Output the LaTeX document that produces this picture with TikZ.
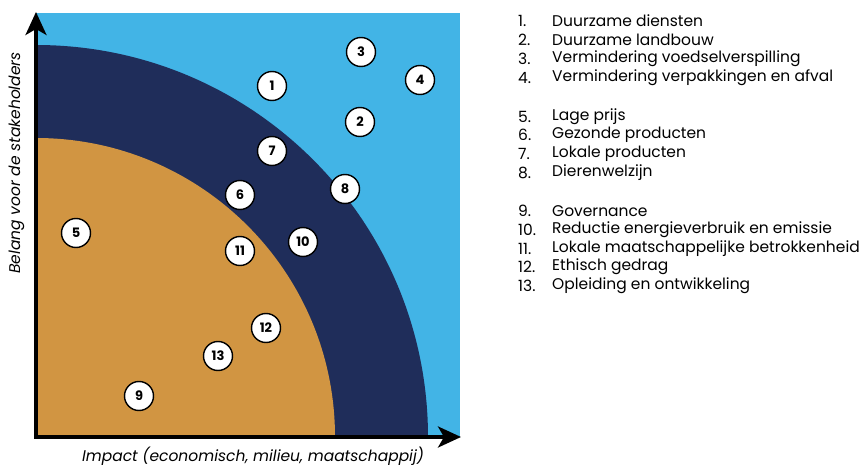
\documentclass[tikz,border=0pt]{standalone}
\usepackage{fontspec}
\setmainfont{Poppins}
\usetikzlibrary{arrows.meta}
\definecolor{lightb}{RGB}{66,180,230}
\definecolor{navy}{RGB}{31,45,90}
\definecolor{ochre}{RGB}{209,149,66}
\begin{document}
\begin{tikzpicture}[x=1pt,y=-1pt,
  badge/.style={circle,draw=black,line width=1.4pt,fill=white,minimum size=29pt,inner sep=0pt,font=\fontsize{13}{13}\selectfont\bfseries},
  num/.style={anchor=west,inner sep=0pt,font=\fontsize{15.5}{15.5}\selectfont},
  item/.style={anchor=west,inner sep=0pt,font=\fontsize{15.5}{15.5}\selectfont},
  axislab/.style={font=\fontsize{15.5}{15.5}\selectfont\itshape},
  axis/.style={line width=3.4pt,-{Stealth[length=23pt,width=21pt,inset=6pt]}}]
\useasboundingbox (0,0) rectangle (868,465);
% background regions
\fill[lightb] (36,13) rectangle (460,437);
\fill[navy] (36,437) -- (36,45) arc[start angle=90,end angle=0,x radius=392,y radius=-392] -- cycle;
\fill[ochre] (36,437) -- (36,138) arc[start angle=90,end angle=0,x radius=299,y radius=-299] -- cycle;
% axes
\coordinate (o) at (36,437);
\coordinate (ytip) at (36,12);
\coordinate (xtip) at (461,437);
\draw[axis] ([yshift=-1.7pt]o) -- (ytip);
\draw[axis] ([xshift=-1.7pt]o) -- (xtip);
\node[rotate=90,axislab] (ylab) at (17,163) {Belang voor de stakeholders};
\node[axislab] (xlab) at (253,456) {Impact (economisch, milieu, maatschappij)};
% badges
\node[badge] (b1) at (272,86) {1};
\node[badge] (b2) at (360,122) {2};
\node[badge] (b3) at (361,52) {3};
\node[badge] (b4) at (420,80) {4};
\node[badge] (b5) at (76,233) {5};
\node[badge] (b6) at (240,195) {6};
\node[badge] (b7) at (272,151) {7};
\node[badge] (b8) at (345,189) {8};
\node[badge] (b9) at (139,396) {9};
\node[badge] (b10) at (303,242) {10};
\node[badge] (b11) at (240,251) {11};
\node[badge] (b12) at (266,328) {12};
\node[badge] (b13) at (218,356) {13};
% legend
\foreach \n/\y/\t in {1/21/Duurzame diensten,2/40/Duurzame landbouw,3/59/Vermindering voedselverspilling,4/78/Vermindering verpakkingen en afval,5/117/Lage prijs,6/135/Gezonde producten,7/154/Lokale producten,8/173/Dierenwelzijn,9/211/Governance,10/230/Reductie energieverbruik en emissie,11/249/Lokale maatschappelijke betrokkenheid,12/267/Ethisch gedrag,13/286/Opleiding en ontwikkeling}{
  \node[num] (n\n) at (518,\y) {\n.};
  \node[item] (t\n) at (552,\y) {\t};
}
\end{tikzpicture}
\end{document}
